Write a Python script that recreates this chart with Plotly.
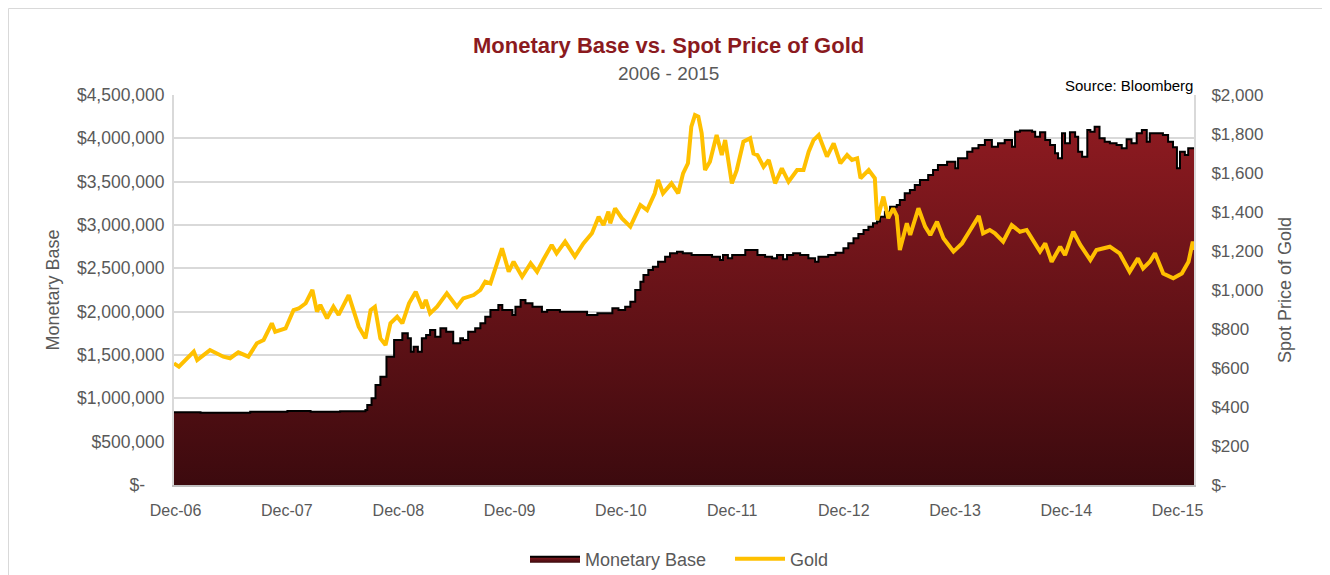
import plotly.graph_objects as go

# ---------------- data ----------------
mb_dates = [
    "2006-11-26", "2007-02-21", "2007-08-03", "2007-12-03", "2008-02-17", "2008-05-24",
    "2008-08-15", "2008-08-21", "2008-09-04", "2008-09-17", "2008-10-03", "2008-10-23",
    "2008-11-17", "2008-12-14", "2009-01-01", "2009-01-11", "2009-01-20", "2009-02-03",
    "2009-02-16", "2009-03-02", "2009-03-15", "2009-04-01", "2009-04-18", "2009-05-07",
    "2009-05-30", "2009-06-22", "2009-07-01", "2009-07-18", "2009-08-10", "2009-08-27",
    "2009-09-12", "2009-09-29", "2009-10-25", "2009-11-07", "2009-12-10", "2009-12-20",
    "2010-01-06", "2010-01-22", "2010-02-14", "2010-03-17", "2010-04-03", "2010-05-15",
    "2010-08-12", "2010-09-15", "2010-11-03", "2010-11-23", "2010-12-15", "2011-01-01",
    "2011-01-17", "2011-02-03", "2011-02-13", "2011-03-01", "2011-03-16", "2011-04-02",
    "2011-04-25", "2011-05-11", "2011-06-03", "2011-06-22", "2011-07-21", "2011-09-26",
    "2011-10-22", "2011-11-01", "2011-11-17", "2011-12-01", "2012-01-13", "2012-02-22",
    "2012-03-18", "2012-04-10", "2012-04-26", "2012-05-16", "2012-05-29", "2012-06-18",
    "2012-07-11", "2012-08-07", "2012-08-29", "2012-09-09", "2012-10-11", "2012-11-04",
    "2012-11-30", "2012-12-16", "2013-01-02", "2013-01-18", "2013-02-04", "2013-02-20",
    "2013-03-07", "2013-03-20", "2013-03-30", "2013-04-15", "2013-05-02", "2013-05-24",
    "2013-06-03", "2013-06-19", "2013-07-06", "2013-07-22", "2013-08-08", "2013-09-04",
    "2013-09-20", "2013-10-06", "2013-11-05", "2013-12-02", "2013-12-11", "2014-01-10",
    "2014-01-27", "2014-02-16", "2014-03-09", "2014-04-01", "2014-04-21", "2014-05-13",
    "2014-06-06", "2014-06-16", "2014-07-02", "2014-08-11", "2014-08-21", "2014-09-06",
    "2014-09-23", "2014-10-09", "2014-10-25", "2014-11-04", "2014-11-17", "2014-11-27",
    "2014-12-13", "2014-12-30", "2015-01-09", "2015-01-22", "2015-02-08", "2015-02-18",
    "2015-03-04", "2015-03-20", "2015-04-06", "2015-04-23", "2015-05-15", "2015-06-01",
    "2015-06-17", "2015-07-03", "2015-07-20", "2015-08-06", "2015-08-22", "2015-09-01",
    "2015-10-14", "2015-10-31", "2015-11-16", "2015-11-29", "2015-12-09", "2015-12-25",
    "2016-01-05", "2016-01-24",
]
mb_values = [
    840000, 835000, 845000, 855000, 845000, 852000,
    865000, 923000, 1000000, 1154000, 1250000, 1480000,
    1673000, 1750000, 1692000, 1538000, 1596000, 1538000,
    1692000, 1731000, 1788000, 1711000, 1808000, 1769000,
    1635000, 1692000, 1673000, 1769000, 1808000, 1865000,
    1942000, 2019000, 2077000, 2019000, 1962000, 2058000,
    2135000, 2096000, 2058000, 2000000, 2019000, 2000000,
    1962000, 1981000, 2039000, 2019000, 2058000, 2115000,
    2250000, 2346000, 2423000, 2481000, 2519000, 2577000,
    2635000, 2673000, 2692000, 2673000, 2654000, 2635000,
    2596000, 2654000, 2615000, 2654000, 2712000, 2654000,
    2635000, 2615000, 2654000, 2604000, 2654000, 2673000,
    2654000, 2615000, 2577000, 2635000, 2654000, 2681000,
    2731000, 2789000, 2846000, 2896000, 2942000, 2981000,
    3019000, 3039000, 3096000, 3154000, 3212000, 3230000,
    3289000, 3365000, 3404000, 3462000, 3519000, 3577000,
    3635000, 3692000, 3731000, 3654000, 3769000, 3846000,
    3885000, 3923000, 3981000, 3904000, 3942000, 3981000,
    3904000, 4077000, 4089000, 4077000, 4019000, 4070000,
    3981000, 3923000, 3827000, 3769000, 4058000, 3942000,
    4070000, 4019000, 3846000, 3788000, 4096000, 4077000,
    4135000, 4000000, 3962000, 3942000, 3923000, 3885000,
    3989000, 3942000, 4058000, 4096000, 3962000, 4058000,
    4038000, 3962000, 3896000, 3654000, 3846000, 3808000,
    3885000, 3885000,
]

gold_dates = [
    "2006-11-26", "2006-12-12", "2007-01-30", "2007-02-10", "2007-03-24", "2007-05-07",
    "2007-05-29", "2007-06-25", "2007-07-28", "2007-08-25", "2007-09-16", "2007-10-13",
    "2007-10-24", "2007-11-27", "2007-12-23", "2008-01-09", "2008-02-01", "2008-02-23",
    "2008-03-09", "2008-03-20", "2008-04-11", "2008-05-02", "2008-05-19", "2008-06-21",
    "2008-07-24", "2008-08-15", "2008-09-01", "2008-09-15", "2008-10-03", "2008-10-20",
    "2008-11-05", "2008-11-27", "2008-12-14", "2009-01-05", "2009-01-27", "2009-02-18",
    "2009-03-01", "2009-03-15", "2009-04-07", "2009-05-09", "2009-06-11", "2009-07-02",
    "2009-08-05", "2009-08-27", "2009-09-12", "2009-09-29", "2009-11-06", "2009-11-28",
    "2009-12-14", "2010-01-11", "2010-02-08", "2010-03-01", "2010-03-21", "2010-04-18",
    "2010-05-04", "2010-06-01", "2010-07-03", "2010-07-31", "2010-08-28", "2010-09-19",
    "2010-10-05", "2010-10-21", "2010-10-27", "2010-11-12", "2010-12-04", "2011-01-01",
    "2011-02-03", "2011-02-25", "2011-03-22", "2011-04-02", "2011-04-18", "2011-05-16",
    "2011-06-07", "2011-06-23", "2011-07-09", "2011-07-20", "2011-08-01", "2011-08-12",
    "2011-08-23", "2011-09-03", "2011-09-19", "2011-10-11", "2011-10-28", "2011-11-08",
    "2011-11-30", "2011-12-16", "2012-01-07", "2012-01-29", "2012-02-09", "2012-02-22",
    "2012-03-13", "2012-03-30", "2012-04-20", "2012-05-12", "2012-06-03", "2012-07-01",
    "2012-07-22", "2012-08-08", "2012-08-24", "2012-09-10", "2012-10-07", "2012-10-29",
    "2012-11-20", "2012-12-12", "2012-12-28", "2013-01-14", "2013-01-25", "2013-02-21",
    "2013-03-13", "2013-03-21", "2013-04-10", "2013-04-26", "2013-05-12", "2013-05-24",
    "2013-06-03", "2013-06-26", "2013-07-07", "2013-08-03", "2013-08-25", "2013-09-11",
    "2013-10-03", "2013-10-24", "2013-11-26", "2013-12-24", "2014-01-20", "2014-02-17",
    "2014-03-03", "2014-03-25", "2014-04-11", "2014-05-08", "2014-06-05", "2014-07-02",
    "2014-07-24", "2014-08-15", "2014-09-06", "2014-09-23", "2014-10-14", "2014-11-11",
    "2014-11-27", "2014-12-24", "2015-01-16", "2015-02-18", "2015-03-10", "2015-04-23",
    "2015-05-25", "2015-06-27", "2015-07-24", "2015-08-10", "2015-09-01", "2015-09-18",
    "2015-10-15", "2015-11-17", "2015-12-15", "2016-01-06", "2016-01-20", "2016-01-24",
]
gold_values = [
    624, 607, 684, 641, 692, 658,
    650, 680, 658, 727, 744, 829,
    786, 803, 897, 905, 932, 1000,
    889, 923, 855, 914, 872, 974,
    812, 752, 897, 914, 752, 718,
    829, 863, 829, 932, 991, 906,
    949, 880, 914, 983, 914, 957,
    974, 1000, 1043, 1034, 1214, 1094,
    1145, 1068, 1137, 1094, 1154, 1231,
    1188, 1248, 1171, 1239, 1291, 1376,
    1333, 1402, 1342, 1419, 1368, 1325,
    1436, 1410, 1496, 1564, 1496, 1547,
    1496, 1598, 1650, 1838, 1897, 1889,
    1803, 1615, 1658, 1795, 1692, 1769,
    1547, 1615, 1761, 1778, 1700, 1692,
    1632, 1667, 1547, 1624, 1555, 1615,
    1615, 1709, 1769, 1795, 1684, 1752,
    1650, 1692, 1667, 1675, 1573, 1615,
    1573, 1359, 1479, 1368, 1419, 1380,
    1205, 1342, 1282, 1419, 1325, 1282,
    1350, 1265, 1197, 1239, 1308, 1379,
    1291, 1308, 1291, 1248, 1333, 1299,
    1308, 1248, 1197, 1239, 1145, 1222,
    1179, 1299, 1231, 1154, 1205, 1222,
    1188, 1094, 1162, 1111, 1145, 1188,
    1085, 1060, 1085, 1145, 1248, 1205,
]

x_tickvals = ["2006-12-01", "2007-12-01", "2008-12-01", "2009-12-01", "2010-12-01",
              "2011-12-01", "2012-12-01", "2013-12-01", "2014-12-01", "2015-12-01"]
x_ticktext = ["Dec-06", "Dec-07", "Dec-08", "Dec-09", "Dec-10",
              "Dec-11", "Dec-12", "Dec-13", "Dec-14", "Dec-15"]
left_tickvals = [0, 500000, 1000000, 1500000, 2000000, 2500000, 3000000, 3500000, 4000000, 4500000]
left_ticktext = ["$-\u2007\u2007", "$500,000", "$1,000,000", "$1,500,000", "$2,000,000",
                 "$2,500,000", "$3,000,000", "$3,500,000", "$4,000,000", "$4,500,000"]
right_tickvals = [0, 200, 400, 600, 800, 1000, 1200, 1400, 1600, 1800, 2000]
right_ticktext = ["$-", "$200", "$400", "$600", "$800", "$1,000", "$1,200", "$1,400",
                  "$1,600", "$1,800", "$2,000"]

# ---------------- styles ----------------
FONT = "Liberation Sans, Arial, sans-serif"
GRAY = "#595959"
GRID = "#d9d9d9"
# the page body adds an 8px offset at the top-left
W, H = 1322, 567
ML, MR, MT, MB = 166, 136, 87, 90
PW, PH = W - ML - MR, H - MT - MB


def px(xf):
    return (xf - ML) / PW


def py(yf):
    return (MT + PH - yf) / PH


fig = go.Figure()

fig.add_trace(go.Scatter(
    x=mb_dates, y=mb_values, name="Monetary Base",
    mode="lines", line=dict(color="#000000", width=2, shape="hv"),
    fill="tozeroy",
    fillgradient=dict(type="vertical", start=0, stop=4100000,
                      colorscale=[[0, "#3c0a0e"], [1, "#8c1a20"]]),
    yaxis="y",
))
fig.add_trace(go.Scatter(
    x=gold_dates, y=gold_values, name="Gold",
    mode="lines", line=dict(color="#FFC000", width=4),
    yaxis="y2",
))

fig.update_layout(
    width=W, height=H, autosize=False,
    margin=dict(l=ML, r=MR, t=MT, b=MB, autoexpand=False),
    paper_bgcolor="white", plot_bgcolor="white",
    font=dict(family=FONT, color=GRAY, size=16),
    showlegend=True,
    legend=dict(orientation="h", x=px(517), xanchor="left", y=py(551), yanchor="middle",
                font=dict(size=18, color=GRAY), itemwidth=50, entrywidth=140,
                traceorder="normal"),
    xaxis=dict(
        type="date", range=["2006-11-26", "2016-01-24"],
        tickmode="array", tickvals=x_tickvals, ticktext=x_ticktext,
        showgrid=False, zeroline=False, showline=True, linecolor="#bfbfbf", linewidth=2,
        ticks="", tickfont=dict(size=16, color=GRAY), ticklabelstandoff=10,
    ),
    yaxis=dict(
        range=[0, 4500000], tickmode="array", tickvals=left_tickvals, ticktext=left_ticktext,
        showgrid=True, gridcolor=GRID, gridwidth=2, zeroline=False,
        showline=True, linecolor=GRID, linewidth=2, ticks="",
        tickfont=dict(size=17.5, color=GRAY), ticklabelstandoff=4,
        title=dict(text="Monetary Base", font=dict(size=18, color=GRAY), standoff=13),
    ),
    yaxis2=dict(
        range=[0, 2000], overlaying="y", side="right", tickmode="array",
        tickvals=right_tickvals, ticktext=right_ticktext,
        showgrid=False, zeroline=False, showline=True, linecolor=GRID, linewidth=2,
        ticks="", tickfont=dict(size=17, color=GRAY), ticklabelstandoff=12,
        title=dict(text="Spot Price of Gold", font=dict(size=18, color=GRAY), standoff=16),
    ),
    annotations=[
        dict(text="<b>Monetary Base vs. Spot Price of Gold</b>", xref="paper", yref="paper",
             x=px(660), y=py(37), xanchor="center", yanchor="middle", showarrow=False,
             font=dict(size=22, color="#8B1A1E", family=FONT)),
        dict(text="2006 - 2015", xref="paper", yref="paper",
             x=px(660), y=py(65), xanchor="center", yanchor="middle", showarrow=False,
             font=dict(size=19, color=GRAY, family=FONT)),
        dict(text="Source: Bloomberg", xref="paper", yref="paper",
             x=px(1187), y=py(77), xanchor="right", yanchor="middle", showarrow=False,
             font=dict(size=15, color="#000000", family=FONT)),
    ],
    shapes=[
        dict(type="rect", xref="paper", yref="paper",
             x0=px(0.5), x1=px(1315), y0=py(640), y1=py(0.5),
             line=dict(color="#d9d9d9", width=1), fillcolor="rgba(0,0,0,0)", layer="below"),
    ],
)

fig.write_html("out.html")
